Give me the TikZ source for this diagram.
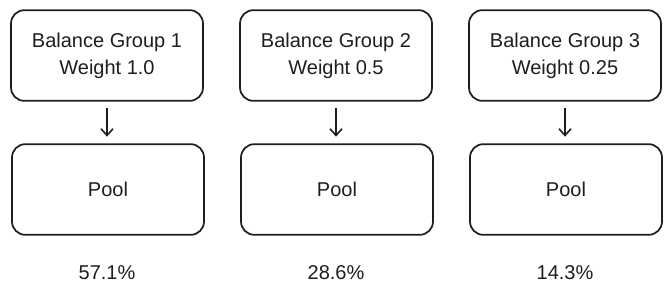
\documentclass[tikz,border=0pt]{standalone}
\usepackage{fontspec}
\setmainfont{Liberation Sans}
\usetikzlibrary{arrows.meta}
\definecolor{ink}{HTML}{1E1E1E}
\begin{document}
\begin{tikzpicture}[x=0.75pt,y=-0.75pt,
  box/.style={draw=ink,line width=1.3pt,rounded corners=10pt,align=center,
    minimum width=144pt,minimum height=68pt,inner sep=0pt,
    font=\fontsize{15}{20}\selectfont,text=ink},
  arr/.style={draw=ink,line width=1.2pt,-{Straight Barb[length=5pt,width=9pt]},
    shorten <=4.5pt,shorten >=5pt},
  pct/.style={font=\fontsize{15}{18}\selectfont,text=ink}]
\useasboundingbox (0,0) rectangle (672,297);
\node[box] (g1) at (107,55.5) {Balance Group 1\\Weight 1.0};
\node[box] (g2) at (336,55.5) {Balance Group 2\\Weight 0.5};
\node[box] (g3) at (565,55.5) {Balance Group 3\\Weight 0.25};
\node[box] (p1) at (108,189.5) {Pool};
\node[box] (p2) at (337,189.5) {Pool};
\node[box] (p3) at (566,189.5) {Pool};
\draw[arr] (g1.south) -- (g1.south |- p1.north);
\draw[arr] (g2.south) -- (g2.south |- p2.north);
\draw[arr] (g3.south) -- (g3.south |- p3.north);
\node[pct] (t1) at (107,273) {57.1\%};
\node[pct] (t2) at (336,273) {28.6\%};
\node[pct] (t3) at (565,273) {14.3\%};
\end{tikzpicture}
\end{document}
